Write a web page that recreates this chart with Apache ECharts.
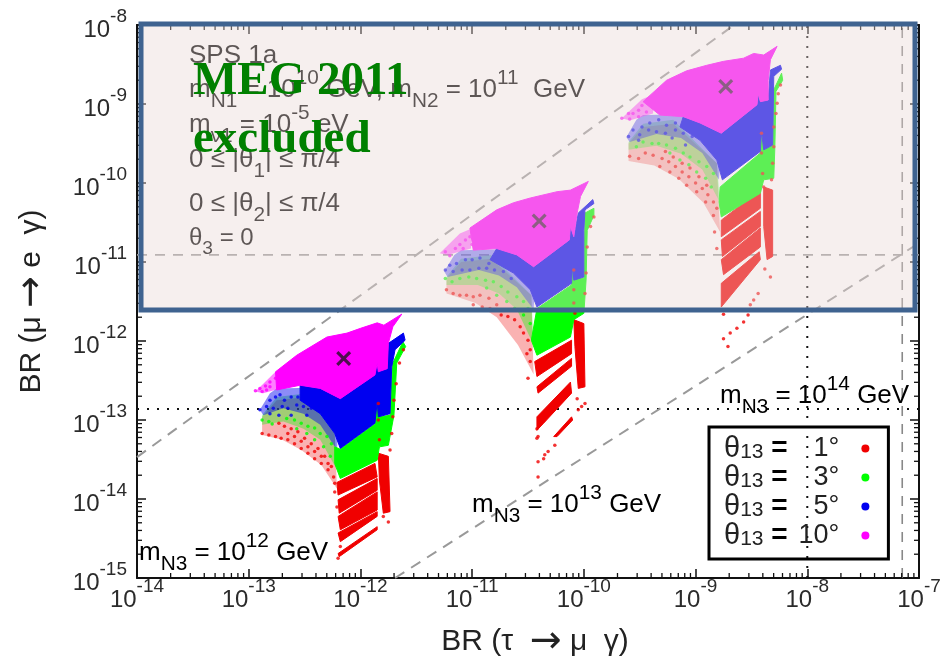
<!DOCTYPE html>
<html><head><meta charset="utf-8">
<style>html,body{margin:0;padding:0;background:#fff}#c{width:949px;height:661px;filter:blur(0.6px)}</style>
<script src="https://cdn.jsdelivr.net/npm/echarts@6/dist/echarts.min.js"></script></head>
<body><div id="c"></div>
<script>
// all values are log10(BR), [log10 BR(tau->mu gamma), log10 BR(mu->e gamma)]
const thetaValues=['1°','3°','5°','10°'];
const thetaColors=['#f00000','#00ff00','#0000f0','#ff00ff'];
const xDecades=[-14,-13,-12,-11,-10,-9,-8];
const yDecades=[-15,-14,-13,-12,-11,-10,-9];
const minorFactors=[2,3,4,5,6,7,8,9];

const magentaAreas=[
[[-12.76,-12.39],[-12.57,-12.18],[-12.30,-11.95],[-12.12,-11.90],[-12.00,-11.84],[-11.85,-11.77],[-11.79,-11.80],[-11.63,-11.66],[-11.71,-11.82],[-11.75,-12.03],[-11.76,-12.35],[-11.84,-12.39],[-11.85,-12.28],[-11.87,-12.43],[-12.18,-12.73],[-12.36,-12.60],[-12.54,-12.56],[-12.75,-12.62]],
[[-11.02,-10.57],[-10.78,-10.34],[-10.63,-10.25],[-10.48,-10.19],[-10.24,-10.11],[-10.12,-10.09],[-9.96,-9.98],[-10.03,-10.17],[-10.06,-10.38],[-10.09,-10.68],[-10.12,-10.55],[-10.13,-10.72],[-10.45,-11.06],[-10.60,-10.91],[-10.78,-10.83],[-10.99,-10.85]],
[[-9.47,-8.97],[-9.26,-8.70],[-9.08,-8.58],[-8.90,-8.51],[-8.75,-8.46],[-8.57,-8.42],[-8.48,-8.36],[-8.39,-8.38],[-8.27,-8.27],[-8.33,-8.44],[-8.35,-8.70],[-8.35,-8.95],[-8.42,-8.97],[-8.44,-8.87],[-8.45,-9.01],[-8.77,-9.37],[-8.96,-9.24],[-9.11,-9.16],[-9.32,-9.14]]
];
const blueAreas=[
[[-12.54,-12.56],[-12.36,-12.60],[-12.18,-12.73],[-11.87,-12.43],[-11.85,-12.28],[-11.84,-12.39],[-11.76,-12.35],[-11.75,-12.03],[-11.615,-11.90],[-11.60,-11.99],[-11.69,-12.11],[-11.72,-12.33],[-11.735,-12.92],[-11.84,-12.96],[-11.85,-12.77],[-11.87,-13.04],[-12.18,-13.36],[-12.23,-13.17],[-12.36,-12.92],[-12.54,-12.75]],
[[-10.78,-10.83],[-10.60,-10.91],[-10.45,-11.06],[-10.13,-10.72],[-10.12,-10.55],[-10.09,-10.68],[-10.05,-10.38],[-9.92,-10.21],[-9.91,-10.26],[-9.99,-10.34],[-10.00,-10.60],[-10.00,-11.19],[-10.09,-11.23],[-10.10,-11.04],[-10.11,-11.27],[-10.42,-11.57],[-10.48,-11.35],[-10.63,-11.14],[-10.84,-10.97]],
[[-9.11,-9.16],[-8.96,-9.24],[-8.77,-9.37],[-8.45,-9.01],[-8.44,-8.87],[-8.42,-8.97],[-8.35,-8.95],[-8.33,-8.57],[-8.24,-8.51],[-8.23,-8.56],[-8.30,-8.65],[-8.31,-9.52],[-8.39,-9.58],[-8.41,-9.35],[-8.42,-9.60],[-8.76,-9.96],[-8.81,-9.71],[-8.96,-9.46],[-9.14,-9.29]]
];
const greenAreas=[
[[-12.23,-13.34],[-12.18,-13.37],[-11.87,-13.05],[-11.85,-12.77],[-11.83,-12.96],[-11.735,-12.94],[-11.71,-12.28],[-11.62,-12.01],[-11.595,-12.07],[-11.675,-12.28],[-11.70,-12.94],[-11.75,-13.32],[-11.83,-13.34],[-11.85,-13.51],[-12.18,-13.74],[-12.23,-13.55]],
[[-10.42,-11.59],[-10.11,-11.29],[-10.10,-11.05],[-10.08,-11.21],[-10.00,-11.21],[-9.99,-10.38],[-9.91,-10.32],[-9.91,-10.41],[-9.97,-10.60],[-9.98,-11.23],[-10.00,-11.65],[-10.09,-11.73],[-10.12,-11.95],[-10.42,-12.18],[-10.47,-11.99]],
[[-8.78,-10.05],[-8.42,-9.62],[-8.41,-9.35],[-8.39,-9.58],[-8.31,-9.52],[-8.30,-8.82],[-8.23,-8.61],[-8.22,-8.70],[-8.28,-8.84],[-8.29,-9.54],[-8.30,-9.94],[-8.39,-9.96],[-8.42,-10.13],[-8.77,-10.43],[-8.79,-10.24]]
];
const redAreas=[
[[-12.21,-13.79],[-11.87,-13.55],[-11.85,-13.72],[-12.20,-13.95]],
[[-12.20,-14.01],[-11.85,-13.74],[-11.85,-13.89],[-12.19,-14.18]],
[[-12.20,-14.22],[-11.85,-13.91],[-11.85,-14.14],[-12.18,-14.39]],
[[-12.20,-14.43],[-11.85,-14.16],[-11.85,-14.22],[-12.18,-14.54]],
[[-12.20,-14.69],[-11.85,-14.35],[-11.85,-14.39],[-12.19,-14.73]],
[[-11.84,-13.42],[-11.75,-13.46],[-11.735,-14.16],[-11.795,-14.18],[-11.83,-13.76]],
[[-10.44,-12.26],[-10.11,-11.99],[-10.11,-12.16],[-10.42,-12.45]],
[[-10.42,-12.58],[-10.11,-12.22],[-10.11,-12.32],[-10.41,-12.66]],
[[-10.42,-12.96],[-10.12,-12.52],[-10.11,-12.66],[-10.36,-13.04],[-10.42,-13.13]],
[[-10.27,-13.21],[-10.11,-12.96],[-10.10,-13.00],[-10.24,-13.21]],
[[-10.09,-11.73],[-10.00,-11.78],[-9.99,-12.58],[-10.05,-12.60],[-10.08,-12.07]],
[[-8.77,-10.47],[-8.42,-10.09],[-8.42,-10.32],[-8.77,-10.68]],
[[-8.77,-10.72],[-8.42,-10.36],[-8.42,-10.55],[-8.76,-10.93]],
[[-8.77,-10.97],[-8.42,-10.57],[-8.42,-10.81],[-8.75,-11.16]],
[[-8.77,-11.27],[-8.43,-10.87],[-8.42,-10.97],[-8.77,-11.57]],
[[-8.39,-10.05],[-8.31,-10.09],[-8.31,-10.93],[-8.36,-10.97],[-8.39,-10.55]]
];
const magentaFans=[
[[-12.94,-12.64],[-12.76,-12.39],[-12.66,-12.33],[-12.66,-12.58],[-12.87,-12.66]],
[[-11.29,-10.89],[-11.11,-10.64],[-11.01,-10.58],[-11.01,-10.83],[-11.22,-10.91]],
[[-9.66,-9.18],[-9.48,-8.94],[-9.38,-8.88],[-9.38,-9.12],[-9.59,-9.21]]
];
const blueFans=[
[[-12.90,-12.87],[-12.81,-12.66],[-12.75,-12.60],[-12.36,-12.59],[-12.18,-12.75],[-12.21,-13.38],[-12.36,-13.06],[-12.51,-12.92],[-12.69,-12.85],[-12.87,-12.94]],
[[-11.25,-11.12],[-11.16,-10.91],[-11.10,-10.85],[-10.71,-10.84],[-10.42,-11.00],[-10.45,-11.60],[-10.60,-11.32],[-10.76,-11.17],[-10.94,-11.10],[-11.22,-11.19]],
[[-9.62,-9.42],[-9.53,-9.20],[-9.47,-9.14],[-9.08,-9.13],[-8.76,-9.30],[-8.79,-9.96],[-8.94,-9.62],[-9.13,-9.43],[-9.35,-9.38],[-9.59,-9.48]]
];
const greenFans=[
[[-12.88,-12.94],[-12.75,-12.71],[-12.48,-12.66],[-12.23,-13.17],[-12.21,-13.63],[-12.36,-13.25],[-12.51,-13.11],[-12.69,-13.02],[-12.88,-13.06]],
[[-11.23,-11.19],[-11.10,-10.96],[-10.83,-10.91],[-10.47,-11.42],[-10.45,-12.05],[-10.60,-11.60],[-10.76,-11.40],[-10.95,-11.29],[-11.23,-11.29]],
[[-9.60,-9.48],[-9.47,-9.25],[-9.20,-9.20],[-8.81,-9.75],[-8.78,-10.25],[-8.94,-9.83],[-9.13,-9.63],[-9.35,-9.53],[-9.60,-9.58]]
];
const redFans=[
[[-12.88,-12.96],[-12.75,-12.75],[-12.48,-12.71],[-12.23,-13.17],[-12.21,-13.87],[-12.35,-13.57],[-12.53,-13.38],[-12.70,-13.25],[-12.88,-13.19]],
[[-11.23,-11.21],[-11.10,-11.00],[-10.83,-10.96],[-10.47,-11.42],[-10.45,-12.42],[-10.59,-12.05],[-10.78,-11.70],[-10.97,-11.52],[-11.23,-11.40]],
[[-9.60,-9.50],[-9.47,-9.29],[-9.20,-9.25],[-8.81,-9.75],[-8.78,-10.62],[-8.93,-10.25],[-9.15,-9.95],[-9.37,-9.78],[-9.60,-9.72]]
];
const magentaDots=[
[-12.94,-12.63],[-12.90,-12.60],[-12.85,-12.57],[-12.81,-12.52],[-12.76,-12.47],[-12.69,-12.47],[-12.62,-12.52],[-12.84,-12.62],[-12.88,-12.64],[-12.73,-12.54],[-12.81,-12.58],
[-11.15,-10.83],[-11.11,-10.78],[-11.06,-10.72],[-11.02,-10.68],[-10.96,-10.69],[-11.08,-10.83],[-11.00,-10.78],[-10.93,-10.78],[-11.24,-10.87],[-11.20,-10.92],
[-9.66,-9.18],[-9.59,-9.19],[-9.56,-9.12],[-9.51,-9.08],[-9.48,-9.02],[-9.41,-9.01],[-9.35,-9.05],[-9.51,-9.16],[-9.44,-9.10],[-9.60,-9.12]
];
const blueDots=[
[-12.81,-12.75],[-12.76,-12.71],[-12.72,-12.68],[-12.68,-12.75],[-12.62,-12.71],[-12.56,-12.71],[-12.84,-12.83],[-12.78,-12.85],[-12.70,-12.83],[-12.65,-12.85],[-12.81,-12.92],[-12.57,-12.81],[-12.51,-12.83],[-12.44,-12.85],[-12.73,-12.94],[-12.90,-12.87],[-12.62,-12.94],[-12.48,-12.94],
[-11.24,-11.10],[-11.20,-11.04],[-11.14,-11.02],[-11.06,-10.97],[-11.00,-10.97],[-10.93,-10.95],[-10.85,-11.02],[-11.17,-11.12],[-11.09,-11.10],[-11.02,-11.10],[-10.94,-11.08],[-10.87,-11.08],[-10.80,-11.10],[-10.72,-11.12],[-10.65,-11.21],
[-9.56,-9.33],[-9.48,-9.29],[-9.41,-9.24],[-9.33,-9.20],[-9.26,-9.27],[-9.18,-9.24],[-9.50,-9.39],[-9.42,-9.33],[-9.35,-9.35],[-9.27,-9.37],[-9.18,-9.33],[-9.11,-9.37],[-9.03,-9.41],[-9.60,-9.41],[-9.51,-9.46],[-9.21,-9.43],[-9.09,-9.52]
];
const greenDots=[
[-12.88,-13.00],[-12.82,-13.02],[-12.79,-13.05],[-12.66,-12.98],[-12.59,-13.00],[-12.53,-13.04],[-12.47,-13.08],[-12.41,-13.10],[-12.36,-13.17],[-12.30,-13.21],[-12.26,-13.30],[-12.57,-13.11],[-12.48,-13.17],[-12.41,-13.25],[-12.33,-13.34],[-12.27,-13.46],
[-11.24,-11.21],[-11.18,-11.25],[-11.11,-11.21],[-11.03,-11.19],[-10.96,-11.21],[-10.88,-11.23],[-10.81,-11.25],[-10.74,-11.31],[-10.68,-11.38],[-10.60,-11.44],[-10.54,-11.50],[-10.50,-11.59],[-10.87,-11.33],[-10.78,-11.42],[-10.69,-11.50],[-10.62,-11.59],[-10.54,-11.67],[-10.48,-11.78],
[-9.53,-9.54],[-9.47,-9.48],[-9.39,-9.50],[-9.33,-9.50],[-9.26,-9.52],[-9.18,-9.56],[-9.11,-9.62],[-9.05,-9.67],[-8.97,-9.73],[-8.90,-9.79],[-8.84,-9.88],[-9.23,-9.62],[-9.14,-9.71],[-9.06,-9.77],[-8.99,-9.86],[-8.91,-9.94],[-8.86,-10.05]
];
const redDots=[
[-12.88,-13.17],[-12.82,-13.19],[-12.76,-13.21],[-12.71,-13.23],[-12.65,-13.25],[-12.59,-13.30],[-12.53,-13.36],[-12.47,-13.42],[-12.41,-13.49],[-12.35,-13.55],[-12.29,-13.63],[-12.24,-13.72],[-12.23,-13.80],[-12.73,-13.04],[-12.68,-13.08],[-12.62,-13.11],[-12.56,-13.15],[-12.50,-13.23],[-12.44,-13.30],[-12.38,-13.36],[-12.32,-13.46],[-12.26,-13.59],[-12.65,-13.17],[-12.59,-13.21],[-12.53,-13.27],[-12.47,-13.34],[-12.41,-13.40],[-12.35,-13.46],[-12.29,-13.55],[-12.23,-13.91],[-12.21,-14.10],[-12.20,-14.75],[-11.795,-14.22],[-11.75,-14.29],[-12.18,-14.60],
[-11.615,-12.11],[-11.65,-12.28],[-11.68,-12.54],[-11.70,-12.75],[-11.71,-12.96],[-11.72,-13.17],[-11.735,-13.38],[-11.84,-12.79],[-11.84,-13.00],[-11.83,-13.25],
[-11.23,-11.35],[-11.17,-11.40],[-11.11,-11.42],[-11.05,-11.42],[-10.99,-11.44],[-10.93,-11.42],[-10.85,-11.46],[-10.78,-11.54],[-10.74,-11.67],[-10.68,-11.69],[-10.62,-11.73],[-10.57,-11.82],[-10.54,-11.90],[-10.50,-11.99],[-10.48,-12.11],[-10.51,-12.16],[-10.48,-12.26],[-10.50,-12.47],[-10.99,-11.54],[-10.91,-11.57],[-10.84,-11.59],
[-10.41,-13.21],[-10.35,-13.44],[-10.41,-13.53],[-10.26,-13.32],[-10.32,-13.40],[-10.41,-13.72],[-10.36,-13.49],[-10.06,-12.73],[-10.05,-12.87],[-9.99,-12.79],[-10.02,-12.83],[-10.42,-13.11],[-10.42,-13.23],
[-9.91,-10.43],[-9.94,-10.55],[-9.97,-10.81],[-9.98,-11.14],[-9.99,-11.40],[-10.09,-11.10],[-10.09,-11.35],[-10.09,-11.52],[-10.08,-11.65],
[-9.59,-9.66],[-9.51,-9.69],[-9.45,-9.62],[-9.38,-9.65],[-9.30,-9.69],[-9.24,-9.73],[-9.18,-9.79],[-9.12,-9.86],[-9.06,-9.92],[-9.00,-10.00],[-8.94,-10.07],[-8.89,-10.15],[-8.84,-10.24],[-8.81,-10.32],[-9.32,-9.79],[-9.23,-9.86],[-9.15,-9.94],[-9.08,-10.03],[-8.99,-10.11],[-8.91,-10.24],[-8.84,-10.41],[-9.27,-9.60],[-9.20,-9.67],[-9.12,-9.75],[-9.05,-9.81],[-8.97,-9.92],[-8.90,-10.03],
[-8.75,-11.97],[-8.69,-11.90],[-8.63,-11.84],[-8.57,-11.76],[-8.53,-11.67],[-8.71,-12.07],[-8.75,-11.66],[-8.33,-11.19],[-8.38,-11.09],[-8.44,-11.40],[-8.48,-11.48],[-8.51,-11.54],[-8.81,-10.83],[-8.83,-10.62],
[-8.24,-8.76],[-8.27,-8.99],[-8.30,-9.29],[-8.30,-9.54],[-8.31,-9.75],[-8.32,-9.96],[-8.41,-9.37],[-8.41,-9.62],[-8.40,-9.88],[-8.39,-10.05],[-8.26,-8.87],[-8.28,-9.12]
];
const crossMarks=[[-12.15,-12.22],[-10.40,-10.48],[-8.73,-8.78]];
const diagonalUpper=[[-14,-13.47],[-8.655,-8]];
const diagonalLower=[[-11.69,-15],[-7,-10.76]];
const limitMuE=[[-14,-10.91],[-7,-10.91]];
const limitTauMu=[[-7.15,-15],[-7.15,-8]];
const futureMuE=[[-14,-12.86],[-7,-12.86]];
const futureTauMu=[[-8,-15],[-8,-8]];

const val=p=>[Math.pow(10,p[0]),Math.pow(10,p[1])];
const expLabel=v=>'{a|10}{b|'+Math.round(Math.log10(v))+'}';
const axisRich={a:{fontSize:24,fontFamily:'Liberation Sans',color:'#2b2b2b',lineHeight:35,verticalAlign:'bottom'},
                b:{fontSize:19,fontFamily:'Liberation Sans',color:'#2b2b2b',lineHeight:19,verticalAlign:'top'}};
const names=thetaValues.map(v=>'θ13 = '+v);
function areaSeries(name,color,areas,opacity){
  return {type:'custom',name,coordinateSystem:'cartesian2d',z:3,encode:{x:0,y:1},silent:true,itemStyle:{color},
    data:areas.map((a,i)=>[...val(a[0]),i]),
    renderItem:(p,api)=>{const pts=areas[api.value(2)].map(q=>api.coord(val(q)));
      return {type:'polygon',shape:{points:pts},style:{fill:color,stroke:opacity?'none':color,lineWidth:1,opacity:opacity||1}};}};
}
function dotSeries(name,color,dots){
  return {type:'scatter',name,symbol:'circle',symbolSize:3.5,z:4,silent:true,itemStyle:{color},data:dots.map(val)};
}
function refLine(data,color,dash,width){
  return {type:'line',data:data.map(val),symbol:'none',silent:true,z:1,lineStyle:{color,width,type:dash},itemStyle:{color}};
}
function minorTickSeries(decades,isX){
  const data=[];
  decades.forEach(d=>minorFactors.forEach(f=>data.push(f*Math.pow(10,d))));
  return {type:'custom',coordinateSystem:'cartesian2d',z:2,silent:true,clip:false,encode:isX?{x:0,y:1}:{x:1,y:0},
    data:data.map(v=>isX?[v,1e-15]:[v,1e-14]),
    renderItem:(p,api)=>{
      const v=api.value(0);
      const a=isX?api.coord([v,1e-15]):api.coord([1e-14,v]);
      const b=isX?api.coord([v,1e-8]):api.coord([1e-7,v]);
      const line=(x1,y1,x2,y2)=>({type:'line',shape:{x1,y1,x2,y2},style:{stroke:'#111',lineWidth:1.3}});
      return {type:'group',children:isX?[line(a[0],a[1],a[0],a[1]-5),line(b[0],b[1],b[0],b[1]+5)]
                                        :[line(a[0],a[1],a[0]+5,a[1]),line(b[0],b[1],b[0]-5,b[1])]};
    }};
}
function logAxis(pos,extent,show,extra,margin){
  return Object.assign({type:'log',logBase:10,position:pos,min:extent[0],max:extent[1],splitNumber:7,
    axisLine:{show:true,onZero:false,lineStyle:{color:'#111',width:2}},
    axisTick:{show:true,inside:true,length:9,lineStyle:{color:'#111',width:1.5}},
    splitLine:{show:false},
    axisLabel:{show,formatter:expLabel,rich:axisRich,margin:margin===undefined?-1:margin}},extra||{});
}
const nameRich={a:{fontSize:30,fontFamily:'Liberation Sans',color:'#222',lineHeight:36},b:{fontSize:38,fontFamily:'DejaVu Sans',color:'#222',lineHeight:36}};
const tr=fs=>({m:{fontSize:fs,fontFamily:'Liberation Sans',color:'#333',lineHeight:fs*1.7,verticalAlign:'middle'},
  u:{fontSize:fs*0.8,fontFamily:'Liberation Sans',color:'#333',lineHeight:fs*0.8,verticalAlign:'top'},
  d:{fontSize:fs*0.8,fontFamily:'Liberation Sans',color:'#333',lineHeight:fs*0.8,verticalAlign:'bottom'}});
const note=(x,y,text,fs,z)=>({type:'text',x,y,z:z||10,silent:true,style:{text,rich:tr(fs||26),verticalAlign:'middle',align:'left'}});
const option={
  animation:false,
  grid:{left:137,right:30,top:25,bottom:83,outerBoundsMode:'none'},
  xAxis:[logAxis('bottom',[1e-14,1e-7],true,{name:'{a|BR (τ  }{b|→}{a| μ  γ)}',nameLocation:'middle',nameGap:46,
      nameTextStyle:{rich:nameRich,padding:[0,0,0,14]}}),
    logAxis('top',[1e-14,1e-7],false)],
  yAxis:[logAxis('left',[1e-15,1e-8],true,{name:'{a|BR (μ }{b|→}{a| e  γ)}',nameLocation:'middle',nameGap:87,
      nameTextStyle:{rich:nameRich}},10),
    logAxis('right',[1e-15,1e-8],false)],
  legend:{left:709,top:427,orient:'vertical',align:'right',selectedMode:false,icon:'circle',itemWidth:8,itemHeight:8,itemGap:0,
    padding:[7,19,9,15],borderColor:'#000',borderWidth:3,data:names,
    formatter:n=>'{t|θ}{s|13}{e| = }{v|'+n.split('= ')[1]+'}',
    textStyle:{rich:{
      t:{fontSize:29,fontFamily:'Liberation Sans',color:'#222',lineHeight:29,verticalAlign:'top'},
      s:{fontSize:21,fontFamily:'Liberation Sans',color:'#222',lineHeight:21,verticalAlign:'bottom'},
      e:{fontSize:28,fontFamily:'Liberation Sans',color:'#000',fontWeight:'bold',lineHeight:24,verticalAlign:'top'},
      v:{fontSize:27,fontFamily:'Liberation Sans',color:'#222',lineHeight:29,width:44,align:'right',padding:[0,17,0,0]}}}},
  graphic:{elements:[
    note(189,56,'{m|SPS 1a}'),
    note(189,90,'{m|m}{d|N1}{m| = 10}{u|10}{m| GeV, m}{d|N2}{m| = 10}{u|11}{m|  GeV}'),
    note(189,125,'{m|m}{d|ν1}{m| = 10}{u|-5}{m| eV}'),
    note(189,160,'{m|0 ≤ |θ}{d|1}{m|| ≤ π/4}'),
    note(189,204,'{m|0 ≤ |θ}{d|2}{m|| ≤ π/4}'),
    note(189,238,'{m|θ}{d|3}{m| = 0}',24),
    note(139,553,'{m|m}{d|N3}{m| = 10}{u|12}{m| GeV}'),
    note(472,505,'{m|m}{d|N3}{m| = 10}{u|13}{m| GeV}'),
    note(720,396,'{m|m}{d|N3}{m| = 10}{u|14}{m| GeV}'),
    {type:'rect',z:50,silent:true,shape:{x:141,y:24,width:774,height:286},
      style:{fill:'rgba(232,215,212,0.4)',stroke:'#3f6390',lineWidth:5}},
    {type:'text',z:60,silent:true,x:193,y:105,style:{text:'MEG 2011',font:'bold 47px "Liberation Serif"',fill:'#008000',verticalAlign:'bottom'}},
    {type:'text',z:60,silent:true,x:193,y:163,style:{text:'excluded',font:'bold 47px "Liberation Serif"',fill:'#008000',verticalAlign:'bottom'}}
  ]},
  series:[
    refLine(limitMuE,'#999',[10,8],1.6),
    refLine(limitTauMu,'#888',[10,8],1.6),
    refLine(futureMuE,'#111',[2,8],2),
    refLine(futureTauMu,'#111',[2,8],2),
    refLine(diagonalUpper,'#999',[11,8],2),
    refLine(diagonalLower,'#999',[11,8],2),
    minorTickSeries(xDecades,true),
    minorTickSeries(yDecades,false),
    areaSeries(names[0],thetaColors[0],redFans,0.3),
    areaSeries(names[1],thetaColors[1],greenFans,0.35),
    areaSeries(names[2],thetaColors[2],blueFans,0.45),
    areaSeries(names[3],thetaColors[3],magentaFans,0.5),
    areaSeries(names[0],thetaColors[0],redAreas),
    areaSeries(names[1],thetaColors[1],greenAreas),
    areaSeries(names[2],thetaColors[2],blueAreas),
    areaSeries(names[3],thetaColors[3],magentaAreas),
    dotSeries(names[3],thetaColors[3],magentaDots),
    dotSeries(names[2],thetaColors[2],blueDots),
    dotSeries(names[1],thetaColors[1],greenDots),
    dotSeries(names[0],thetaColors[0],redDots),
    {type:'scatter',data:crossMarks.map(val),silent:true,z:5,symbolSize:15,
      symbol:'path://M1.5 0L5 3.5L8.5 0L10 1.5L6.5 5L10 8.5L8.5 10L5 6.5L1.5 10L0 8.5L3.5 5L0 1.5Z',itemStyle:{color:'#301030',opacity:0.85}}
  ]
};
const chart=echarts.init(document.getElementById('c'),null,{renderer:'canvas'});
chart.setOption(option);
</script></body></html>
